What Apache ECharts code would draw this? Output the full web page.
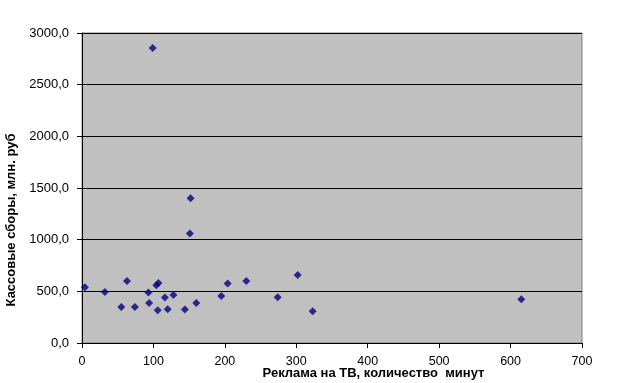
<!DOCTYPE html>
<html><head><meta charset="utf-8">
<script src="https://cdn.jsdelivr.net/npm/echarts@6/dist/echarts.min.js"></script>
<style>html,body{margin:0;padding:0;background:#fff}#c{width:619px;height:383px}</style>
</head><body><div id="c"></div>
<script>
const adMinutes = [4, 32, 63, 55, 74, 93, 94, 104, 107, 106, 116, 120, 128, 144, 160, 195, 204, 230, 274, 302, 323, 99, 152, 151, 615];
const boxOffice = [540, 494, 600, 348, 348, 488, 387, 558, 581, 317, 440, 326, 465, 323, 387, 455, 575, 600, 442, 658, 307, 2856, 1401, 1059, 423];
const xTicks = [0, 100, 200, 300, 400, 500, 600, 700];
const yTicks = [0, 500, 1000, 1500, 2000, 2500, 3000];
const xTitle = 'Реклама на ТВ, количество  минут';
const yTitle = 'Кассовые сборы, млн. руб';

const points = adMinutes.map((x, i) => [x, boxOffice[i]]);
const chart = echarts.init(document.getElementById('c'));
const font = 'Liberation Sans, Arial, sans-serif';
chart.setOption({
  animation: false,
  backgroundColor: '#fff',
  grid: { left: 82, right: 37, top: 33, bottom: 40, containLabel: false, outerBoundsMode: 'none',
          show: true, backgroundColor: '#c0c0c0', borderColor: '#808080', borderWidth: 1 },
  xAxis: {
    type: 'value', min: xTicks[0], max: xTicks[xTicks.length - 1], interval: 100,
    name: xTitle, nameLocation: 'middle', nameGap: 24, nameMoveOverlap: false,
    nameTextStyle: { fontFamily: font, fontSize: 13, fontWeight: 'bold', color: '#000', padding: [0, 0, 0, 83] },
    axisLine: { show: true, lineStyle: { color: '#000', width: 1 } },
    axisTick: { show: true, length: 5, lineStyle: { color: '#000' } },
    axisLabel: { fontFamily: font, fontSize: 12.5, color: '#000', margin: 12 },
    splitLine: { show: false }
  },
  yAxis: {
    type: 'value', min: yTicks[0], max: yTicks[yTicks.length - 1], interval: 500,
    name: yTitle, nameLocation: 'middle', nameGap: 64, nameRotate: 90, nameMoveOverlap: false,
    nameTextStyle: { fontFamily: font, fontSize: 13, fontWeight: 'bold', color: '#000', padding: [0, 64, 0, 0], align: 'center' },
    axisLine: { show: true, lineStyle: { color: '#000', width: 1 } },
    axisTick: { show: true, length: 5, lineStyle: { color: '#000' } },
    axisLabel: { fontFamily: font, fontSize: 13, color: '#000', margin: 13, formatter: v => v.toFixed(1).replace('.', ',') },
    splitLine: { show: true, lineStyle: { color: '#000', width: 1 } }
  },
  series: [{
    type: 'scatter', data: points, symbol: 'diamond', symbolSize: 8,
    itemStyle: { color: '#000080' }
  }]
});
</script></body></html>
